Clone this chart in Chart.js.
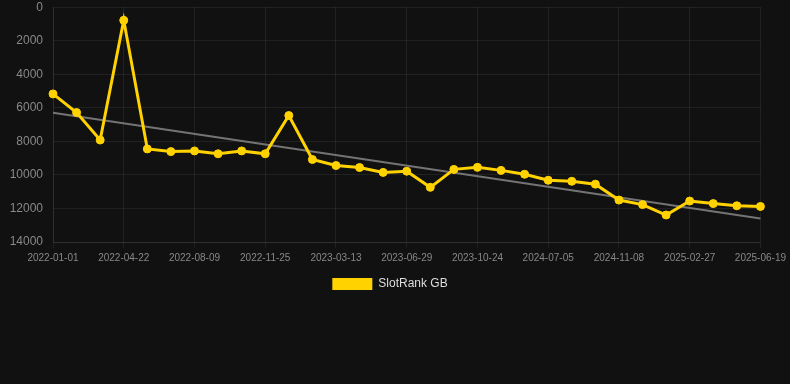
<!DOCTYPE html>
<html>
<head>
<meta charset="utf-8">
<script src="https://cdn.jsdelivr.net/npm/chart.js@4/dist/chart.umd.min.js"></script>
<style>
html,body{margin:0;padding:0;background:#111111;}
#wrap{width:790px;height:300px;position:relative;}
</style>
</head>
<body>
<div id="wrap"><canvas id="c"></canvas></div>
<script>
const categories = [
 "2022-01-01","2022-02-06","2022-03-15","2022-04-22","2022-05-28","2022-07-03",
 "2022-08-09","2022-09-14","2022-10-20","2022-11-25","2022-12-31","2023-02-05",
 "2023-03-13","2023-04-18","2023-05-24","2023-06-29","2023-08-07","2023-09-15",
 "2023-10-24","2024-01-17","2024-04-11","2024-07-05","2024-08-16","2024-09-27",
 "2024-11-08","2024-12-15","2025-01-21","2025-02-27","2025-04-11","2025-05-15",
 "2025-06-19"
];
const slotRankGB = [5170, 6280, 7920, 780, 8450, 8610, 8570, 8740, 8570, 8740, 6460,
 9080, 9440, 9560, 9850, 9780, 10740, 9670, 9550, 9730, 9960, 10320, 10380, 10550,
 11500, 11770, 12390, 11560, 11710, 11840, 11880];
const trendStart = 6300;
const trendEnd = 12600;
const yTicks = [0, 2000, 4000, 6000, 8000, 10000, 12000, 14000];

const trendData = categories.map((c, i) => i === 0 ? trendStart : (i === categories.length - 1 ? trendEnd : null));

const gridColor = 'rgba(255,255,255,0.07)';
const fontFamily = 'Arial, "Liberation Sans", sans-serif';

const legendShift = {
  id: 'legendShift',
  afterLayout(chart) {
    if (chart.legend) { chart.legend.left -= 5; chart.legend.right -= 5; }
  }
};

new Chart(document.getElementById('c'), {
  type: 'line',
  data: {
    labels: categories,
    datasets: [
      {
        label: 'SlotRank GB',
        data: slotRankGB,
        borderColor: '#FFD200',
        backgroundColor: '#FFD200',
        borderWidth: 3,
        pointRadius: 4,
        pointBorderWidth: 1,
        pointBackgroundColor: '#FFD200',
        pointBorderColor: '#FFD200',
        tension: 0,
        order: 1
      },
      {
        label: 'Trend',
        data: trendData,
        spanGaps: true,
        borderColor: '#747474',
        borderWidth: 2,
        pointRadius: 0,
        tension: 0,
        order: 2
      }
    ]
  },
  plugins: [legendShift],
  options: {
    responsive: true,
    maintainAspectRatio: false,
    animation: false,
    layout: { autoPadding: false, padding: { left: 0, right: 0, top: 0, bottom: 0 } },
    plugins: {
      legend: {
        position: 'bottom',
        labels: {
          color: '#dddddd',
          font: { family: fontFamily, size: 12 },
          boxWidth: 40,
          boxHeight: 12,
          generateLabels: (chart) => Chart.defaults.plugins.legend.labels.generateLabels(chart)
            .filter(it => it.text === 'SlotRank GB')
            .map(it => Object.assign(it, { lineWidth: 0 }))
        }
      },
      tooltip: { enabled: false }
    },
    scales: {
      x: {
        offset: false,
        grid: { color: gridColor, drawTicks: true, tickLength: 6 },
        border: { color: gridColor },
        ticks: {
          color: '#888888',
          autoSkip: false,
          maxRotation: 0,
          padding: 4,
          font: { family: fontFamily, size: 10 },
          callback: function(v, i) { return i % 3 === 0 ? categories[i] : null; }
        }
      },
      y: {
        reverse: true,
        min: yTicks[0],
        max: yTicks[yTicks.length - 1],
        afterBuildTicks: (s) => { s.ticks = yTicks.map(v => ({ value: v })); },
        afterFit: (s) => { s.width = 53; },
        grid: { color: gridColor, drawTicks: true, tickLength: 10, tickColor: 'rgba(0,0,0,0)' },
        border: { color: gridColor },
        ticks: {
          color: '#888888',
          padding: 0,
          font: { family: fontFamily, size: 12 },
          callback: (v) => String(v)
        }
      }
    }
  }
});
</script>
</body>
</html>
